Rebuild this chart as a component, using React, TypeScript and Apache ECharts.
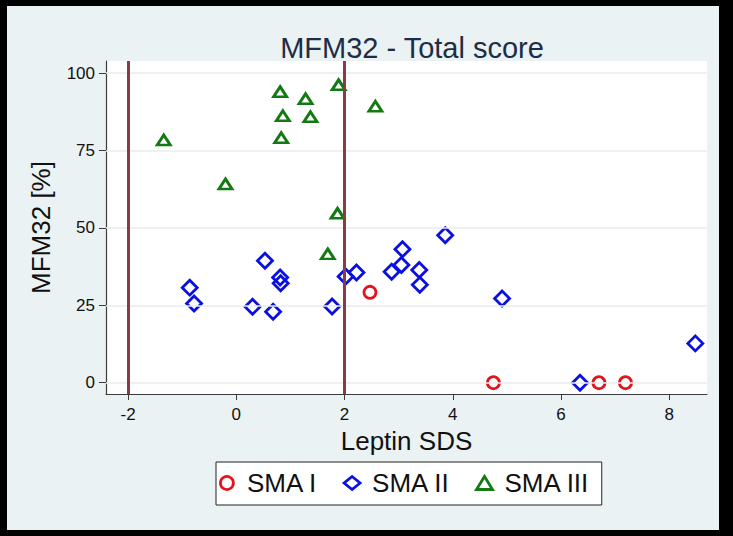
import React, { useEffect, useRef } from "react";
import * as echarts from "echarts";

// ---- data ----
const smaI_x = [2.47, 4.75, 6.7, 7.19];
const smaI_y = [29.2, 0, 0, 0];

const smaII_x = [-0.86, -0.78, 0.3, 0.53, 0.68, 0.81, 0.82, 1.77, 2.02, 2.22, 2.87, 3.07, 3.05, 3.38, 3.39, 3.86, 4.91, 6.35, 8.48];
const smaII_y = [30.7, 25.6, 24.5, 39.4, 22.9, 34.0, 32.1, 24.6, 34.3, 35.6, 35.8, 43.1, 38.0, 36.4, 31.6, 47.6, 27.2, 0, 12.7];

const smaIII_x = [-1.34, -0.2, 0.81, 0.86, 0.83, 1.28, 1.37, 1.89, 2.57, 1.87, 1.69];
const smaIII_y = [78.4, 64.2, 94.0, 86.2, 79.1, 91.7, 85.9, 96.2, 89.3, 54.7, 41.6];

const seriesNames = ["SMA I", "SMA II", "SMA III"];
const xTicks = [-2, 0, 2, 4, 6, 8];
const yTicks = [0, 25, 50, 75, 100];
const refLinesX = [-2, 2];

const FONT = "'Liberation Sans', Arial, sans-serif";

function pairs(xs: number[], ys: number[]) {
  return xs.map((x, i) => [x, ys[i]]);
}

export default function App() {
  const ref = useRef<HTMLDivElement>(null);
  useEffect(() => {
    if (!ref.current) return;
    const chart = echarts.init(ref.current, undefined, { renderer: "svg" });
    const axisColor = "#3c3c3c";
    chart.setOption({
      animation: false,
      backgroundColor: "#000000",
      textStyle: { fontFamily: FONT },
      graphic: [
        {
          type: "rect",
          z: -10,
          silent: true,
          shape: { x: 7, y: 6, width: 712, height: 524 },
          style: { fill: "#eaf2f3" },
        },
      ],
      title: {
        text: "MFM32 - Total score",
        left: 407,
        textAlign: "center",
        top: 28,
        textStyle: { fontFamily: FONT, fontSize: 29, fontWeight: "normal", color: "#1e2d45" },
      },
      grid: {
        left: 106,
        top: 61,
        width: 601,
        height: 333,
        show: true,
        backgroundColor: "#ffffff",
        borderWidth: 0,
      },
      xAxis: {
        type: "value",
        min: -2.407,
        max: 8.696,
        name: "Leptin SDS",
        nameLocation: "middle",
        nameGap: 28,
        nameTextStyle: { fontFamily: FONT, fontSize: 26, color: "#111", verticalAlign: "top", lineHeight: 26 },
        axisLine: { show: true, onZero: false, lineStyle: { color: axisColor, width: 1.2 } },
        axisTick: { show: true, inside: false, length: 6, customValues: xTicks, lineStyle: { color: axisColor } },
        axisLabel: { customValues: xTicks, margin: 12, fontSize: 17, color: "#111", fontFamily: FONT },
        splitLine: { show: false },
      },
      yAxis: {
        type: "value",
        min: -3.65,
        max: 103.9,
        name: "MFM32 [%]",
        nameLocation: "middle",
        nameGap: 52,
        nameTextStyle: { fontFamily: FONT, fontSize: 26, color: "#111" },
        axisLine: { show: true, onZero: false, lineStyle: { color: axisColor, width: 1.2 } },
        axisTick: { show: true, inside: false, length: 7, customValues: yTicks, lineStyle: { color: axisColor } },
        axisLabel: { customValues: yTicks, margin: 11, fontSize: 17, color: "#111", fontFamily: FONT },
        splitLine: { show: false },
      },
      legend: {
        data: [
          { name: seriesNames[0] },
          { name: seriesNames[1] },
          { name: seriesNames[2] },
        ],
        left: 216,
        top: 462,
        orient: "horizontal",
        backgroundColor: "#ffffff",
        borderColor: "#222",
        borderWidth: 1,
        borderRadius: 0,
        padding: [6, 12, 7, 3],
        itemGap: 25,
        itemWidth: 16,
        itemHeight: 13,
        itemStyle: { borderWidth: 2.8, opacity: 1 },
        textStyle: { fontFamily: FONT, fontSize: 26, color: "#111", lineHeight: 30, padding: [0, 0, 0, 7] },
      },
      series: [
        {
          name: "ref",
          type: "scatter",
          data: [],
          z: 1,
          silent: true,
          markLine: {
            silent: true,
            symbol: ["none", "none"],
            label: { show: false },
            data: [
              ...yTicks.map((v) => ({ yAxis: v, lineStyle: { color: "#e6eef0", width: 1.5, type: "solid" } })),
              ...refLinesX.map((v) => ({ xAxis: v, lineStyle: { color: "#8c3a44", width: 3, type: "solid" } })),
            ],
          },
        },
        {
          name: seriesNames[0],
          type: "scatter",
          z: 3,
          symbol: "circle",
          symbolSize: 12,
          itemStyle: { color: "rgba(255,255,255,0)", borderColor: "#e4141c", borderWidth: 2.8, opacity: 1 },
          data: pairs(smaI_x, smaI_y),
        },
        {
          name: seriesNames[1],
          type: "scatter",
          z: 3,
          symbol: "diamond",
          symbolSize: 15,
          itemStyle: { color: "rgba(255,255,255,0)", borderColor: "#0a10e0", borderWidth: 2.8, opacity: 1 },
          data: pairs(smaII_x, smaII_y),
        },
        {
          name: seriesNames[2],
          type: "scatter",
          z: 3,
          symbol: "triangle",
          symbolSize: [13, 10],
          itemStyle: { color: "rgba(255,255,255,0)", borderColor: "#137a13", borderWidth: 2.8, opacity: 1 },
          data: pairs(smaIII_x, smaIII_y),
        },
      ],
    });
    return () => chart.dispose();
  }, []);
  return (
    <div
      ref={ref}
      style={{ position: "fixed", left: 0, top: 0, width: 733, height: 536 }}
    />
  );
}
